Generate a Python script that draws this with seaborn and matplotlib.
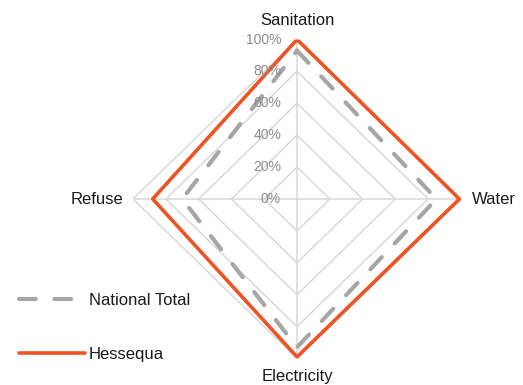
import numpy as np
import pandas as pd
import seaborn as sns
import matplotlib
matplotlib.use("Agg")
import matplotlib.pyplot as plt
from matplotlib import transforms
from matplotlib.lines import Line2D

# Access to basic services (% of households)
categories = ["Sanitation", "Water", "Electricity", "Refuse"]
national_total = [93, 85, 93, 70]
hessequa = [100, 99, 99, 88]
tick_values = [0, 20, 40, 60, 80, 100]
tick_labels = ["0%", "20%", "40%", "60%", "80%", "100%"]

sns.set_theme(style="white")
plt.rcParams["font.family"] = ["Liberation Sans", "DejaVu Sans"]

GRID = "#d9d9d9"
TEXT = "#1a1a1a"
TICK = "#8c8c8c"
ORANGE = "#EF5323"
GREY = "#a6a6a6"

fig = plt.figure(figsize=(5.23, 3.85), dpi=100)
ax = fig.add_axes([0.2543, 0.0688, 0.6272, 0.8286], projection="polar")
ax.set_aspect("auto")
ax.set_theta_zero_location("N")
ax.set_theta_direction(-1)
ax.set_ylim(0, 100)
ax.grid(False)
ax.spines["polar"].set_visible(False)
ax.set_xticks([])
ax.set_yticks([])
ax.patch.set_alpha(0)

n = len(categories)
theta = np.linspace(0, 2 * np.pi, n, endpoint=False)
theta_closed = np.append(theta, 2 * np.pi)

# polygon gridlines and spokes
for v in tick_values[1:]:
    ax.plot(theta_closed, [v] * (n + 1), color=GRID, lw=1.1, zorder=1)
for t in theta:
    ax.plot([t, t], [0, 100], color=GRID, lw=1.1, zorder=1)

def closed(vals):
    return pd.DataFrame({"theta": theta_closed, "r": list(vals) + [vals[0]]})

sns.lineplot(data=closed(national_total), x="theta", y="r", ax=ax, sort=False,
             estimator=None, color=GREY, lw=3.0, linestyle=(0, (4, 4.5)),
             dash_capstyle="round", zorder=3)
sns.lineplot(data=closed(hessequa), x="theta", y="r", ax=ax, sort=False,
             estimator=None, color=ORANGE, lw=2.6, zorder=4)
ax.set_xlabel("")
ax.set_ylabel("")
ax.set_ylim(0, 100)
if ax.get_legend() is not None:
    ax.get_legend().remove()

# radial tick labels, to the left of the vertical spoke
tick_tr = transforms.offset_copy(ax.transData, fig=fig, x=-16, y=0, units="dots")
for v, lab in zip(tick_values, tick_labels):
    ax.text(0, v, lab, transform=tick_tr, ha="right", va="center",
            fontsize=10, color=TICK, zorder=5)

# category labels around the outer ring
offsets = {"Sanitation": (0, 19, "center", "center"),
           "Water": (11, 0, "left", "center"),
           "Electricity": (0, -18, "center", "center"),
           "Refuse": (-10, 0, "right", "center")}
for t, cat in zip(theta, categories):
    dx, dy, ha, va = offsets[cat]
    tr = transforms.offset_copy(ax.transData, fig=fig, x=dx, y=dy, units="dots")
    ax.text(t, 100, cat, transform=tr, ha=ha, va=va, fontsize=12, color=TEXT)

handles = [
    Line2D([], [], color=GREY, lw=3.0, linestyle=(0, (4, 4.5)), dash_capstyle="round"),
    Line2D([], [], color=ORANGE, lw=2.6),
]
fig.legend(handles, ["National Total", "Hessequa"], loc="upper left",
           bbox_to_anchor=(0.02, 0.26), frameon=False, fontsize=12,
           handlelength=4.0, handletextpad=0.2, labelspacing=2.3,
           borderpad=0, labelcolor=TEXT)

fig.savefig("out.png", dpi=100, facecolor="white")
